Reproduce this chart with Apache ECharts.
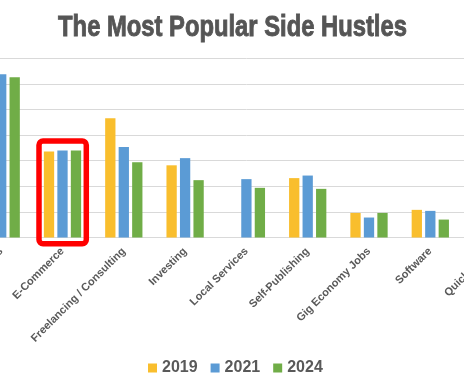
<!DOCTYPE html>
<html>
<head>
<meta charset="utf-8">
<script src="https://cdn.jsdelivr.net/npm/echarts@6/dist/echarts.min.js"></script>
<style>
html,body{margin:0;padding:0;background:#fff;overflow:hidden;width:464px;height:387px;position:relative;}
#chart{position:absolute;left:-30px;top:0;width:554px;height:387px;}
</style>
</head>
<body>
<div id="chart"></div>
<script>
var titleText = 'The Most Popular Side Hustles';
var categories = ['Online Businesses', 'E-Commerce', 'Freelancing / Consulting', 'Investing', 'Local Services', 'Self-Publishing', 'Gig Economy Jobs', 'Software', 'Quick Tasks'];
var seriesNames = ['2019', '2021', '2024'];
var values2019 = [null, 16.8, 23.3, 14.1, null, 11.6, 4.8, 5.4, null];
var values2021 = [31.9, 17.0, 17.7, 15.5, 11.4, 12.1, 3.9, 5.2, null];
var values2024 = [31.3, 17.0, 14.7, 11.2, 9.7, 9.5, 4.8, 3.5, null];
var yMin = 0, yMax = 35, yInterval = 5;
var highlightCategory = 'E-Commerce';

var colors = ['#F9BE2D', '#5B9BD5', '#70AD47'];
var labelColor = '#595959';
var offsetX = 30; // chart canvas starts 30px left of the visible page
var chart = echarts.init(document.getElementById('chart'), null, {renderer: 'canvas'});

var allValues = [values2019, values2021, values2024];
var series = seriesNames.map(function (name, i) {
  return {
    name: name,
    type: 'bar',
    data: allValues[i],
    barWidth: 10.3,
    barGap: '31%',
    itemStyle: {color: colors[i]}
  };
});

chart.setOption({
  backgroundColor: '#ffffff',
  animation: false,
  color: colors,
  legend: {
    data: seriesNames,
    left: 148 + offsetX,
    top: 360,
    padding: 0,
    itemWidth: 9,
    itemHeight: 9,
    itemGap: 13,
    icon: 'rect',
    textStyle: {
      fontFamily: 'Liberation Sans',
      fontWeight: 'bold',
      fontSize: 16,
      color: labelColor
    }
  },
  grid: {
    left: 0.55,
    width: 551.7,
    top: 58.3,
    bottom: 149.5,
    containLabel: false,
    outerBoundsMode: 'none'
  },
  xAxis: {
    type: 'category',
    data: categories,
    axisLine: {lineStyle: {color: '#D9D9D9', width: 1}},
    axisTick: {show: false},
    axisLabel: {
      interval: 0,
      rotate: 45,
      margin: 12,
      fontFamily: 'Liberation Sans',
      fontWeight: 'bold',
      fontSize: 11,
      color: labelColor
    }
  },
  yAxis: {
    type: 'value',
    min: yMin,
    max: yMax,
    interval: yInterval,
    axisLabel: {show: false},
    axisLine: {show: false},
    axisTick: {show: false},
    splitLine: {lineStyle: {color: '#D9D9D9', width: 1}}
  },
  series: series
});

// red highlight box around the chosen category, positioned from the axes
var idx = categories.indexOf(highlightCategory);
var groupMax = Math.max(values2019[idx] || 0, values2021[idx] || 0, values2024[idx] || 0);
var cx = chart.convertToPixel({xAxisIndex: 0}, highlightCategory);
var yTop = chart.convertToPixel({yAxisIndex: 0}, groupMax);
var yBase = chart.convertToPixel({yAxisIndex: 0}, 0);
chart.setOption({
  graphic: [{
    type: 'rect',
    shape: {x: cx - 23.5, y: yTop - 9.4, width: 47.3, height: (yBase + 6.2) - (yTop - 9.4), r: 4},
    style: {fill: 'none', stroke: '#FF0000', lineWidth: 5.5},
    z: 100
  }, {
    type: 'text',
    x: 232.5 + offsetX,
    y: 13,
    scaleX: 0.82,
    originX: 0,
    style: {
      text: titleText,
      font: 'bold 29px "Liberation Sans", Arial, sans-serif',
      fill: '#555555',
      stroke: '#555555',
      lineWidth: 0.9,
      align: 'center',
      verticalAlign: 'top'
    },
    z: 100
  }]
});
</script>
</body>
</html>
